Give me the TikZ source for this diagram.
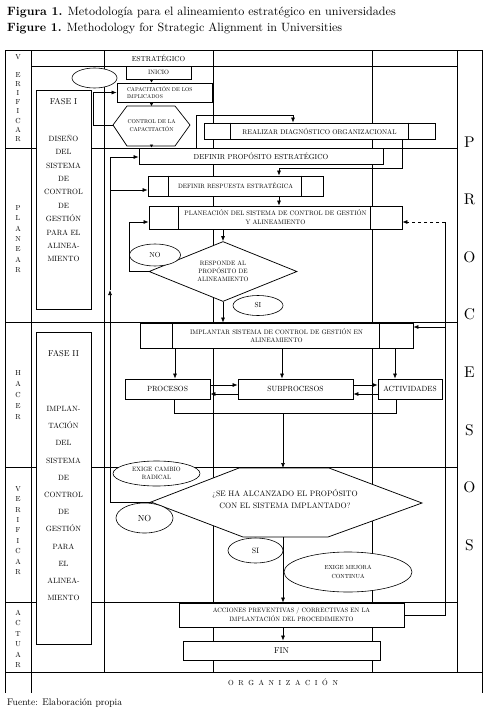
\documentclass[tikz,border=0pt]{standalone}
\usepackage{fontspec}
\setmainfont{lmroman10-regular.otf}[BoldFont=lmroman10-bold.otf, ItalicFont=lmroman10-italic.otf]
\usetikzlibrary{arrows.meta,shapes.geometric}
\newcommand{\fs}[2]{\fontsize{#1}{#2}\selectfont}
\begin{document}
\begin{tikzpicture}[x=1pt,y=-1pt,
  ln/.style={line width=0.7pt},
  box/.style={draw, fill=white, line width=0.75pt, inner sep=0pt, align=center},
  ell/.style={draw, ellipse, fill=white, line width=0.6pt, inner sep=0pt, align=center},
  arr/.style={line width=0.7pt, -{Latex[length=5pt,width=4pt]}},
  arrs/.style={line width=0.7pt, -{Latex[length=3pt,width=3.5pt]}},
  lab/.style={inner sep=0pt, align=center}]
\useasboundingbox (0,0) rectangle (487,712);

% titles
\node[anchor=west, inner sep=0pt, font={\fs{12.1}{13}}] (t1) at (7,13) {\textbf{Figura 1.} Metodología para el alineamiento estratégico en universidades};
\node[anchor=west, inner sep=0pt, font={\fs{12}{13}}] (t2) at (7,28) {\textbf{Figure 1.} Methodology for Strategic Alignment in Universities};
\node[anchor=west, inner sep=0pt, font={\fs{9.6}{10}}] (src) at (7,703) {Fuente: Elaboración propia};

% grid
\draw[ln] (5,50) -- (482,50);
\draw[ln] (5,50) -- (5,693);
\draw[ln] (31,50) -- (31,693);
\draw[ln] (482,50) -- (482,693);
\foreach \x in {104,213,372,457} \draw[ln] (\x,50) -- (\x,672);
\draw[ln] (31,66) -- (457,66);
\foreach \y in {148,322,467,602} \draw[ln] (5,\y) -- (457,\y);
\draw[ln] (5,672) -- (482,672);

\node[lab, font={\fs{7.2}{8}}] (hdr) at (158.5,58) {ESTRATÉGICO};
\node[lab, font={\fs{7.3}{8}}] (org) at (283,682) {O\kern4.6pt R\kern4.6pt G\kern4.6pt A\kern4.6pt N\kern4.6pt I\kern4.6pt Z\kern4.6pt A\kern4.6pt C\kern4.6pt I\kern4.6pt Ó\kern4.6pt N};

% left letters
\node[lab, font={\fs{7.3}{9.1}}] (v1) at (18,57) {V};
\node[lab, font={\fs{7.3}{9.1}}] (v2) at (18,107) {E\\R\\I\\F\\I\\C\\A\\R};
\node[lab, font={\fs{7.3}{10.3}}] (pl) at (18,239) {P\\L\\A\\N\\E\\A\\R};
\node[lab, font={\fs{7.3}{11}}] (ha) at (18,395) {H\\A\\C\\E\\R};
\node[lab, font={\fs{7.3}{10.4}}] (vb) at (18,530.5) {V\\E\\R\\I\\F\\I\\C\\A\\R};
\node[lab, font={\fs{7.3}{10.4}}] (ac) at (18,639) {A\\C\\T\\U\\A\\R};
\node[lab, font={\fs{15.5}{57.6}}] (proc) at (469.5,343.5) {P\\R\\O\\C\\E\\S\\O\\S};

% phase boxes
\node[box, minimum width=55, minimum height=219] (fase1) at (63.5,199.5) {};
\node[lab, font={\fs{8.5}{10}}] (f1t) at (63.5,102) {FASE I};
\node[lab, font={\fs{7.6}{13.4}}] (f1b) at (63.5,198.5) {DISEÑO\\DEL\\SISTEMA\\DE\\CONTROL\\DE\\GESTIÓN\\PARA EL\\ALINEA-\\MIENTO};
\node[box, minimum width=55, minimum height=312] (fase2) at (63.5,488) {};
\node[lab, font={\fs{8.5}{10}}] (f2t) at (63.5,354) {FASE II};
\node[lab, font={\fs{7.6}{17.2}}] (f2b) at (63.5,503.5) {IMPLAN-\\TACIÓN\\DEL\\SISTEMA\\DE\\CONTROL\\DE\\GESTIÓN\\PARA\\EL\\ALINEA-\\MIENTO};

% hexagons
\coordinate (ctlW) at (113,125); \coordinate (ctlNW) at (127,106); \coordinate (ctlNE) at (175,106);
\coordinate (ctlE) at (190,125); \coordinate (ctlSE) at (175,146); \coordinate (ctlSW) at (127,146);
\coordinate (ctlN) at (151.5,106); \coordinate (ctlS) at (151.5,146);
\draw[ln, fill=white] (ctlW) -- (ctlNW) -- (ctlNE) -- (ctlE) -- (ctlSE) -- (ctlSW) -- cycle;
\node[lab, font={\fs{5.6}{8}}] (ctl) at (151.5,125.5) {CONTROL DE LA\\CAPACITACIÓN};

\coordinate (alcW) at (151,502); \coordinate (alcNW) at (239,468); \coordinate (alcNE) at (329,468);
\coordinate (alcE) at (422,503); \coordinate (alcSE) at (328,537); \coordinate (alcSW) at (243,537);
\coordinate (alcN) at (283,468); \coordinate (alcS) at (283,537);
\draw[line width=0.75pt, fill=white] (alcW) -- (alcNW) -- (alcNE) -- (alcE) -- (alcSE) -- (alcSW) -- cycle;
\node[lab, font={\fs{7.9}{12}}] (alc) at (285,499) {¿SE HA ALCANZADO EL PROPÓSITO\\CON EL SISTEMA IMPLANTADO?};

% boxes
\node[box, minimum width=65, minimum height=13, font={\fs{6.3}{7}}] (inicio) at (158.5,72.5) {INICIO};
\node[box, minimum width=95, minimum height=19, text width=75pt, inner xsep=10pt, align=left, font={\fs{5.5}{7}}] (capac) at (164.5,92.5) {CAPACITACIÓN DE LOS\\IMPLICADOS};
\node[box, minimum width=231, minimum height=16, font={\fs{6.8}{8}}] (realiza) at (319.5,131) {REALIZAR DIAGNÓSTICO ORGANIZACIONAL};
\draw[ln] ([xshift=27pt]realiza.north west) -- ([xshift=27pt]realiza.south west);
\draw[ln] ([xshift=-27pt]realiza.north east) -- ([xshift=-27pt]realiza.south east);
\node[box, minimum width=244, minimum height=16, font={\fs{7.3}{8}}] (defprop) at (261,156) {DEFINIR PROPÓSITO ESTRATÉGICO};
\node[box, minimum width=175, minimum height=20, font={\fs{6.25}{8}}] (defresp) at (235.5,186) {DEFINIR RESPUESTA ESTRATÉGICA};
\draw[ln] ([xshift=21pt]defresp.north west) -- ([xshift=21pt]defresp.south west);
\draw[ln] ([xshift=-22pt]defresp.north east) -- ([xshift=-22pt]defresp.south east);
\node[box, minimum width=253, minimum height=23, font={\fs{6.5}{9}}] (planea) at (275.5,217.5) {PLANEACIÓN DEL SISTEMA DE CONTROL DE GESTIÓN\\Y ALINEAMIENTO};
\draw[ln] ([xshift=30pt]planea.north west) -- ([xshift=30pt]planea.south west);
\draw[ln] ([xshift=-32pt]planea.north east) -- ([xshift=-32pt]planea.south east);
\node[diamond, draw, fill=white, line width=0.75pt, inner sep=0pt, aspect=2.47, minimum width=148, minimum height=60, align=center, font={\fs{6.3}{8}}] (diam) at (223,271.5) {RESPONDE AL\\PROPÓSITO DE\\ALINEAMIENTO};
\node[box, minimum width=273, minimum height=25, font={\fs{6.45}{8.3}}] (implan) at (276.5,335.5) {IMPLANTAR SISTEMA DE CONTROL DE GESTIÓN EN\\ALINEAMIENTO};
\draw[ln] ([xshift=33pt]implan.north west) -- ([xshift=33pt]implan.south west);
\draw[ln] ([xshift=-34pt]implan.north east) -- ([xshift=-34pt]implan.south east);
\node[box, minimum width=85, minimum height=20, font={\fs{7.5}{8}}] (procesos) at (167.5,389) {PROCESOS};
\node[box, minimum width=115, minimum height=20, font={\fs{7.5}{8}}] (subproc) at (295.5,389) {SUBPROCESOS};
\node[box, minimum width=64, minimum height=20, font={\fs{7.5}{8}}] (activ) at (410,389) {ACTIVIDADES};
\node[box, minimum width=225, minimum height=24, font={\fs{6.3}{8.7}}] (acciones) at (291.5,615) {ACCIONES PREVENTIVAS / CORRECTIVAS EN LA\\IMPLANTACIÓN DEL PROCEDIMIENTO};
\node[box, minimum width=197, minimum height=19, font={\fs{8.5}{9}}] (fin) at (281.5,650.5) {FIN};

% ellipses
\node[ell, minimum width=45, minimum height=20] (e0) at (94.5,78) {};
\node[ell, minimum width=51, minimum height=22, font={\fs{7.3}{8}}] (no1) at (155,255) {NO};
\node[ell, minimum width=50, minimum height=20, font={\fs{7.3}{8}}] (si1) at (258,305.5) {SI};
\node[ell, minimum width=87, minimum height=25, font={\fs{6.2}{8.5}}] (exc) at (156.5,473.5) {EXIGE CAMBIO\\RADICAL};
\node[ell, minimum width=57, minimum height=30, font={\fs{8.8}{9}}] (no2) at (144.5,518) {NO};
\node[ell, minimum width=55, minimum height=25, font={\fs{7.8}{8}}] (si2) at (255.5,550.5) {SI};
\node[ell, minimum width=128, minimum height=40, font={\fs{5.9}{9}}] (mej) at (348,572) {EXIGE MEJORA\\CONTINUA};

% connectors
\draw[arrs] (inicio.south -| ctlN) -- (capac.north -| ctlN);
\draw[arrs] (capac.south -| ctlN) -- (ctlN);
\coordinate (kL) at (93,125);
\draw[arr] (ctlW) -- (kL) |- (capac.west);
\draw[arrs] (ctlS) -- (ctlS |- defprop.north);
\coordinate (k1) at (196,115); \coordinate (k2) at (293,115);
\draw[arr] (k1 |- defprop.north) -- (k1) -- (k2) -- (k2 |- realiza.north);
\coordinate (k3) at (402,168); \coordinate (k4) at (279,168);
\draw[arr] (k3 |- realiza.south) -- (k3) -- (k4) -- (k4 |- defresp.north);
\draw[arr] (k4 |- defresp.south) -- (k4 |- planea.north);
\draw[arr] (diam.north |- planea.south) -- (diam.north);
\coordinate (k5) at (129,222);
\draw[arr] (diam.west) -| (k5) -- (k5 -| planea.west);
\draw[arr] (diam.south) -- (diam.south |- implan.north);
\coordinate (xa) at (175,0); \coordinate (xb) at (282,0); \coordinate (xc) at (395,0);
\draw[arr] (xa |- implan.south) -- (xa |- procesos.north);
\draw[arr] (xb |- implan.south) -- (xb |- subproc.north);
\draw[arr] (xc |- implan.south) -- (xc |- activ.north);
\coordinate (yu) at (0,385); \coordinate (yd) at (0,394);
\draw[arr] (procesos.east |- yu) -- (subproc.west |- yu);
\draw[arr] (subproc.west |- yd) -- (procesos.east |- yd);
\draw[arr] (subproc.east |- yu) -- (activ.west |- yu);
\draw[arr] (activ.west |- yd) -- (subproc.east |- yd);
\coordinate (xd) at (174,0); \coordinate (xe) at (396,0); \coordinate (k6) at (283,413);
\draw[ln] (xd |- procesos.south) |- (xe |- k6) -- (xe |- activ.south);
\draw[arr] (k6) -- (alcN);
\coordinate (k7) at (110,502); \coordinate (k10) at (110,290);
\coordinate (k8) at (110,157); \coordinate (k9) at (110,190);
\draw[ln] (alcW) -- (k7);
\draw[arr] (k7) -- (k10);
\draw[ln] (k10) -- (k8);
\draw[arr] (k8) -- (k8 -| defprop.west);
\draw[arr] (k9) -- (k9 -| defresp.west);
\draw[arr] (alcS) -- (alcS |- acciones.north);
\draw[arr] (alcS |- acciones.south) -- (alcS |- fin.north);
\coordinate (k11) at (445,615); \coordinate (k12) at (445,222); \coordinate (k13) at (445,327);
\draw[ln] (acciones.east) -- (k11) -- (k12);
\draw[arr] (k13) -- (k13 -| implan.east);
\draw[arr, dashed] (k12) -- (k12 -| planea.east);
\end{tikzpicture}
\end{document}
